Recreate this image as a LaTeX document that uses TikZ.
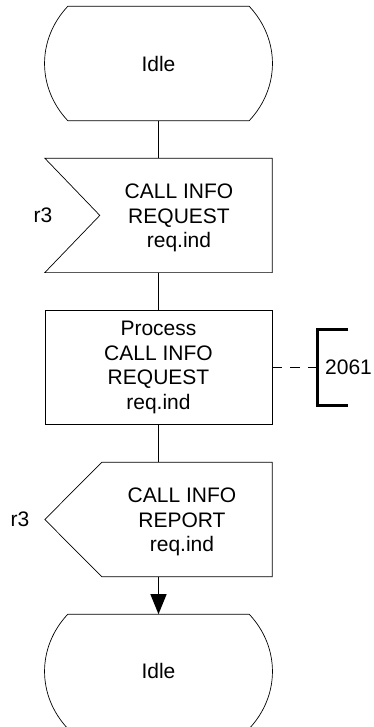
\documentclass[tikz,border=0pt]{standalone}
\usepackage{fontspec}
\setmainfont{Liberation Sans}
\usetikzlibrary{arrows.meta,positioning}

% state symbol: flat top and bottom, bulging sides
\newcommand{\stateoutline}[1]{%
  \draw[line width=0.7pt] ([xshift=23pt]#1.north west) -- ([xshift=-23pt]#1.north east)
    .. controls +(31,-33) and +(31,33) .. ([xshift=-23pt]#1.south east)
    -- ([xshift=23pt]#1.south west)
    .. controls +(-31,33) and +(-31,-33) .. cycle;}

\begin{document}
\begin{tikzpicture}[x=1pt,y=1pt,node distance=37.5pt,
  every node/.style={font=\fontsize{21}{24.5}\selectfont,align=center,inner sep=0pt},
  sdlbox/.style={minimum width=227pt,minimum height=114pt},
  conn/.style={line width=1.3pt}]
\useasboundingbox (0,0) rectangle (374,-727);

\node[sdlbox] (idle1) at (158.5,-63.5) {Idle};
\node[sdlbox,below=of idle1,label={[xshift=20.5pt,yshift=-2.5pt]center:{CALL INFO\\REQUEST\\req.ind}}] (req) {};
\node[sdlbox,draw,line width=0.7pt,below=of req] (proc) {Process\\CALL INFO\\REQUEST\\req.ind};
\node[sdlbox,below=of proc,label={[xshift=23.5pt,yshift=-2.5pt]center:{CALL INFO\\REPORT\\req.ind}}] (rep) {};
\node[sdlbox,below=of rep] (idle2) {Idle};

\node (r3in) at ([xshift=-115.5pt]req.center) {r3};
\node (r3out) at ([xshift=-138.5pt]rep.center) {r3};
\node[minimum width=62pt,minimum height=76pt,right=45pt of proc] (ref) {2061};

% outlines
\stateoutline{idle1}
\stateoutline{idle2}
\draw[line width=0.7pt] (req.north west) -- (req.north east) -- (req.south east)
  -- (req.south west) -- ([xshift=55pt]req.west) -- cycle;
\draw[line width=0.7pt] ([xshift=57pt]rep.north west) -- (rep.north east) -- (rep.south east)
  -- ([xshift=57pt]rep.south west) -- (rep.west) -- cycle;
\draw[line width=3pt] ([xshift=31pt]ref.north west) -- (ref.north west) -- (ref.south west) -- ([xshift=31pt]ref.south west);

% connectors
\draw[conn] (idle1) -- (req);
\draw[conn] (req) -- (proc);
\draw[conn] (proc) -- (rep);
\draw[conn,-{Triangle[length=20pt,width=16pt]}] (rep) -- (idle2);
\draw[line width=1pt,dash pattern=on 10pt off 8pt] (proc.east) -- (ref.west);
\end{tikzpicture}
\end{document}
